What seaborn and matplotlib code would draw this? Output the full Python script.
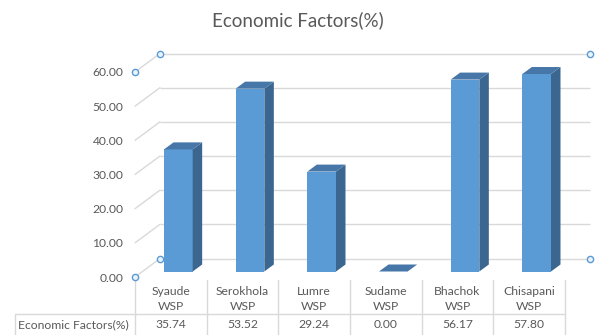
import numpy as np
import pandas as pd
import matplotlib
matplotlib.use('Agg')
import matplotlib.pyplot as plt
import seaborn as sns
from matplotlib.transforms import Affine2D, IdentityTransform
from matplotlib.patches import Polygon
from matplotlib.lines import Line2D

sites = ['Syaude WSP', 'Serokhola WSP', 'Lumre WSP', 'Sudame WSP', 'Bhachok WSP', 'Chisapani WSP']
economic = [35.74, 53.52, 29.24, 0.00, 56.17, 57.80]
y_ticks = [0, 10, 20, 30, 40, 50, 60]
series_name = 'Economic Factors(%)'

FRONT = '#5B9BD5'
SIDE = '#3A6690'
TOP = '#4776A8'
GRID = '#D9D9D9'
TXT = '#595959'

sns.set_style('white')
plt.rcParams['font.family'] = ['Lato', 'DejaVu Sans']

W, H = 597, 335
fig = plt.figure(figsize=(W / 100, H / 100), dpi=100)
# front wall plane: x 135..565 px, y 0 -> 277 px, 60 -> 72 px
ax = fig.add_axes([135 / W, (H - 277) / H, 430 / W, 205 / H])
ax.set_facecolor('none')

df = pd.DataFrame({'site': sites, 'value': economic})
sns.barplot(data=df, x='site', y='value', color=FRONT, width=0.4, saturation=1, linewidth=0,
            ax=ax, zorder=3)
ax.set_xlim(-0.5, len(sites) - 0.5)
ax.set_ylim(0, 60)
for s in ax.spines.values():
    s.set_visible(False)
ax.set_xlabel('')
ax.set_ylabel('')

ax.set_yticks(y_ticks)
ax.set_yticklabels([f'{v:.2f}' for v in y_ticks])
ax.tick_params(axis='y', length=0, pad=8.5, labelsize=8.7, labelcolor=TXT)
ax.set_xticks(range(len(sites)))
ax.set_xticklabels([s.replace(' ', '\n') for s in sites], linespacing=1.45)
ax.tick_params(axis='x', length=0, pad=6.5, labelsize=8.7, labelcolor=TXT)

# depth offsets in pixels
WALL = (25, 18.5)
BAR_OFF = (7.5, 5.5)
DEPTH = (9.5, 7)

to_disp = ax.transData.transform
back_t = ax.transData + Affine2D().translate(*WALL)

# back wall gridlines and left side wall diagonals
ax.hlines(y_ticks, -0.5, len(sites) - 0.5, colors=GRID, lw=1, transform=back_t, zorder=1, clip_on=False)
for v in y_ticks:
    fx, fy = to_disp((-0.5, v))
    ax.add_line(Line2D([fx, fx + WALL[0]], [fy, fy + WALL[1]], color=GRID, lw=1,
                       transform=IdentityTransform(), zorder=1, clip_on=False))

# bars: shift front faces, then add side and top faces
bar_t = ax.transData + Affine2D().translate(*BAR_OFF)
for p in ax.patches:
    p.set_transform(bar_t)
    p.set_clip_on(False)
    x0, x1 = p.get_x(), p.get_x() + p.get_width()
    h = p.get_height()
    (ax0, ay0) = to_disp((x0, 0)) + np.array(BAR_OFF)
    (ax1, ay1) = to_disp((x1, h)) + np.array(BAR_OFF)
    dx, dy = DEPTH
    if h > 0:
        side = Polygon([(ax1, ay0), (ax1, ay1), (ax1 + dx, ay1 + dy), (ax1 + dx, ay0 + dy)],
                       closed=True, fc=SIDE, ec='none', transform=IdentityTransform(), zorder=3, clip_on=False)
        ax.add_patch(side)
    top = Polygon([(ax0, ay1), (ax1, ay1), (ax1 + dx, ay1 + dy), (ax0 + dx, ay1 + dy)],
                  closed=True, fc=TOP, ec='none', transform=IdentityTransform(), zorder=3, clip_on=False)
    ax.add_patch(top)

# selection handles on the walls
hx, hy = [], []
for pt, off in [((-0.5, 60), (0, 0)), ((-0.5, 60), WALL), ((-0.5, 0), (0, 0)), ((-0.5, 0), WALL),
                ((len(sites) - 0.5, 60), WALL), ((len(sites) - 0.5, 0), WALL)]:
    d = to_disp(pt)
    hx.append(d[0] + off[0])
    hy.append(d[1] + off[1])
ax.add_line(Line2D(hx, hy, ls='none', marker='o', ms=4.5, mfc='#EAF2FA', mec='#5B9BD5', mew=1,
                   transform=IdentityTransform(), zorder=5, clip_on=False))

# data table below
def ypx(py):
    return (277 - py) / 205

def xpx(px):
    return (px - 135) / 430

tbl = dict(color=GRID, lw=1, transform=ax.transAxes, clip_on=False, zorder=2)
for i in range(len(sites) + 1):
    xa = i / len(sites)
    ax.add_line(Line2D([xa, xa], [ypx(280), ypx(340)], **tbl))
ax.add_line(Line2D([xpx(15), 1], [ypx(314), ypx(314)], **tbl))
ax.add_line(Line2D([xpx(15), xpx(15)], [ypx(314), ypx(340)], **tbl))

ax.text(xpx(18), ypx(325), series_name, transform=ax.transAxes, ha='left', va='center',
        fontsize=8.7, color=TXT)
for i, v in enumerate(economic):
    ax.text(i, ypx(325), f'{v:.2f}', transform=ax.get_xaxis_transform(), ha='center', va='center',
            fontsize=8.7, color=TXT)

fig.text(298 / W, 1 - 20 / H, 'Economic Factors(%)', ha='center', va='center', fontsize=13.5, color=TXT)

fig.savefig('out.png', dpi=100, facecolor='white')
